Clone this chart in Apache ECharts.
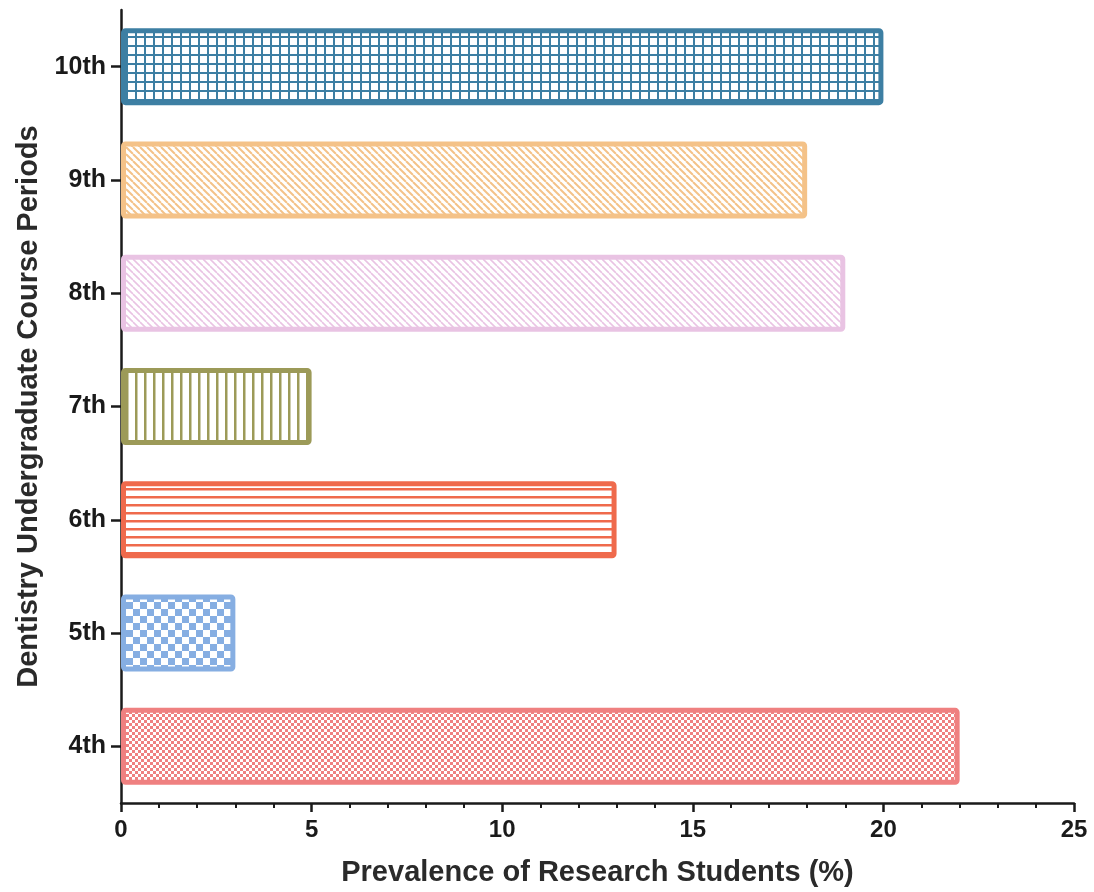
<!DOCTYPE html>
<html><head><meta charset="utf-8">
<script src="https://cdn.jsdelivr.net/npm/echarts@6/dist/echarts.min.js"></script>
<style>html,body{margin:0;padding:0;background:#fff}#c{width:1094px;height:892px}</style>
</head><body><div id="c"></div>
<script>
const categories = ['4th','5th','6th','7th','8th','9th','10th'];
const values = [22, 3, 13, 5, 19, 18, 20];
const colors = ['#ef8080','#86aee2','#ef6a4c','#9c9a58','#e9c3e3','#f4c288','#3d7fa3'];
const patternKinds = ['fine','checker','hlines','vlines','diagThin','diag','grid'];
const xTicks = [0,5,10,15,20,25];

function makePattern(kind, color){
  const c = document.createElement('canvas');
  let s;
  const ctx = c.getContext('2d');
  if(kind==='grid'){ s=9; c.width=c.height=s; ctx.fillStyle='#fff';ctx.fillRect(0,0,s,s);
    ctx.fillStyle=color; ctx.fillRect(0,0,s,2); ctx.fillRect(0,0,2,s); }
  else if(kind==='diag' || kind==='diagThin'){ s=7; c.width=c.height=s; ctx.fillStyle='#fff';ctx.fillRect(0,0,s,s);
    ctx.strokeStyle=color; ctx.lineWidth= kind==='diag'?2:1.6;
    for(let o=-s;o<=s;o+=s){ ctx.beginPath(); ctx.moveTo(o,0); ctx.lineTo(o+s,s); ctx.stroke(); } }
  else if(kind==='vlines'){ s=9; c.width=s;c.height=s; ctx.fillStyle='#fff';ctx.fillRect(0,0,s,s);
    ctx.fillStyle=color; ctx.fillRect(0,0,2.5,s); }
  else if(kind==='hlines'){ c.width=8;c.height=8; ctx.fillStyle='#fff';ctx.fillRect(0,0,8,8);
    ctx.fillStyle=color; ctx.fillRect(0,0,8,2.5); }
  else if(kind==='checker'){ s=14; c.width=c.height=s; ctx.fillStyle='#fff';ctx.fillRect(0,0,s,s);
    ctx.fillStyle=color; ctx.fillRect(0,0,7,7); ctx.fillRect(7,7,7,7); }
  else if(kind==='fine'){ s=6; c.width=c.height=s; ctx.fillStyle='#fff';ctx.fillRect(0,0,s,s);
    ctx.fillStyle=color; ctx.fillRect(0,0,3,3); ctx.fillRect(3,3,3,3); }
  return {image:c, repeat:'repeat'};
}

const chart = echarts.init(document.getElementById('c'));
const data = values.map((v,i)=>({value:v, itemStyle:{color:makePattern(patternKinds[i],colors[i]), borderColor:colors[i], borderWidth:5, borderRadius:2}}));
const font = 'Liberation Sans, Arial, sans-serif';
chart.setOption({
  animation:false,
  grid:{left:121,right:20,top:10,bottom:89,containLabel:false,outerBoundsMode:'none'},
  xAxis:{type:'value',min:0,max:25,interval:5,
    axisLine:{show:true,lineStyle:{color:'#1a1a1a',width:2.5}},
    axisTick:{show:true,length:9,lineStyle:{color:'#1a1a1a',width:2.5}},
    minorTick:{show:true,splitNumber:5,length:5,lineStyle:{color:'#1a1a1a',width:2}},
    splitLine:{show:false},
    axisLabel:{color:'#1a1a1a',fontSize:24,fontWeight:'bold',fontFamily:font,margin:15,formatter:v=>xTicks.includes(v)?String(v):''},
    name:'Prevalence of Research Students (%)',nameLocation:'middle',nameGap:55,
    nameTextStyle:{color:'#2a2a2a',fontSize:29,fontWeight:'bold',fontFamily:font}},
  yAxis:{type:'category',data:categories,
    axisLine:{show:true,lineStyle:{color:'#1a1a1a',width:2.5}},
    axisTick:{show:true,alignWithLabel:true,length:10,lineStyle:{color:'#1a1a1a',width:2.5}},
    axisLabel:{color:'#1a1a1a',fontSize:25,fontWeight:'bold',fontFamily:font,margin:15},
    name:'Dentistry Undergraduate Course Periods',nameLocation:'middle',nameGap:77,nameRotate:90,
    nameTextStyle:{color:'#2a2a2a',fontSize:29,fontWeight:'bold',fontFamily:font}},
  series:[{type:'bar',data:data,barCategoryGap:'32%'}]
});
</script></body></html>
